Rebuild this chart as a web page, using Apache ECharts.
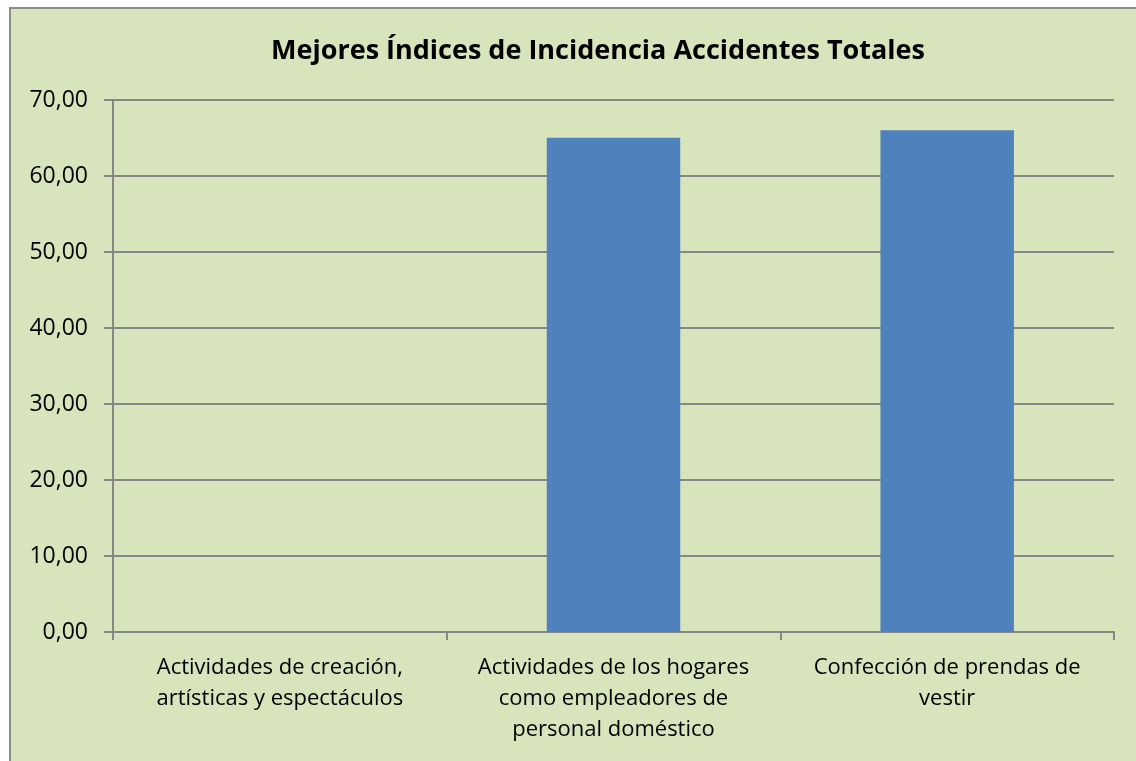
<!DOCTYPE html>
<html>
<head>
<meta charset="utf-8">
<script src="https://cdn.jsdelivr.net/npm/echarts@6/dist/echarts.min.js"></script>
<style>
  html, body { margin: 0; padding: 0; background: #fff; }
  #frame {
    position: absolute; left: 9px; top: 7px; width: 1140px; height: 770px;
    background: #d8e4bc; border: 2px solid #8c8c8c;
  }
  #chart { position: absolute; left: 0; top: 0; width: 1136px; height: 761px; }
</style>
</head>
<body>
<div id="frame"></div>
<div id="chart"></div>
<script>
  // datos del gráfico
  var categorias = [
    'Actividades de creación,\nartísticas y espectáculos',
    'Actividades de los hogares\ncomo empleadores de\npersonal doméstico',
    'Confección de prendas de\nvestir'
  ]
  var indices = [0, 65.04, 66.01]
  var yMin = 0
  var yMax = 70
  var yPaso = 10

  var fuente = '"Open Sans", "Liberation Sans", sans-serif'
  var chart = echarts.init(document.getElementById('chart'))

  chart.setOption({
    backgroundColor: 'transparent',
    animation: false,
    title: {
      text: 'Mejores Índices de Incidencia Accidentes Totales',
      left: 593,
      textAlign: 'center',
      top: 33,
      textStyle: {
        fontFamily: fuente,
        fontSize: 27,
        fontWeight: 'bold',
        color: '#000'
      }
    },
    grid: {
      left: 113,
      right: 22,
      top: 100,
      bottom: 129,
      containLabel: false
    },
    xAxis: {
      type: 'category',
      data: categorias,
      axisLine: { lineStyle: { color: '#868686', width: 2 } },
      axisTick: { show: true, length: 8, alignWithLabel: false, lineStyle: { color: '#868686', width: 2 } },
      axisLabel: {
        interval: 0,
        margin: 20,
        color: '#000',
        fontFamily: fuente,
        fontSize: 22,
        lineHeight: 31
      }
    },
    yAxis: {
      type: 'value',
      min: yMin,
      max: yMax,
      interval: yPaso,
      axisLine: { show: true, lineStyle: { color: '#868686', width: 2 } },
      axisTick: { show: true, length: 9, lineStyle: { color: '#868686', width: 2 } },
      splitLine: { lineStyle: { color: '#868686', width: 2 } },
      axisLabel: {
        margin: 25,
        color: '#000',
        fontFamily: fuente,
        fontSize: 23,
        formatter: function (v) { return v.toFixed(2).replace('.', ',') }
      }
    },
    series: [{
      type: 'bar',
      data: indices,
      barWidth: '40%',
      itemStyle: { color: '#4f81bd' }
    }]
  })
</script>
</body>
</html>
